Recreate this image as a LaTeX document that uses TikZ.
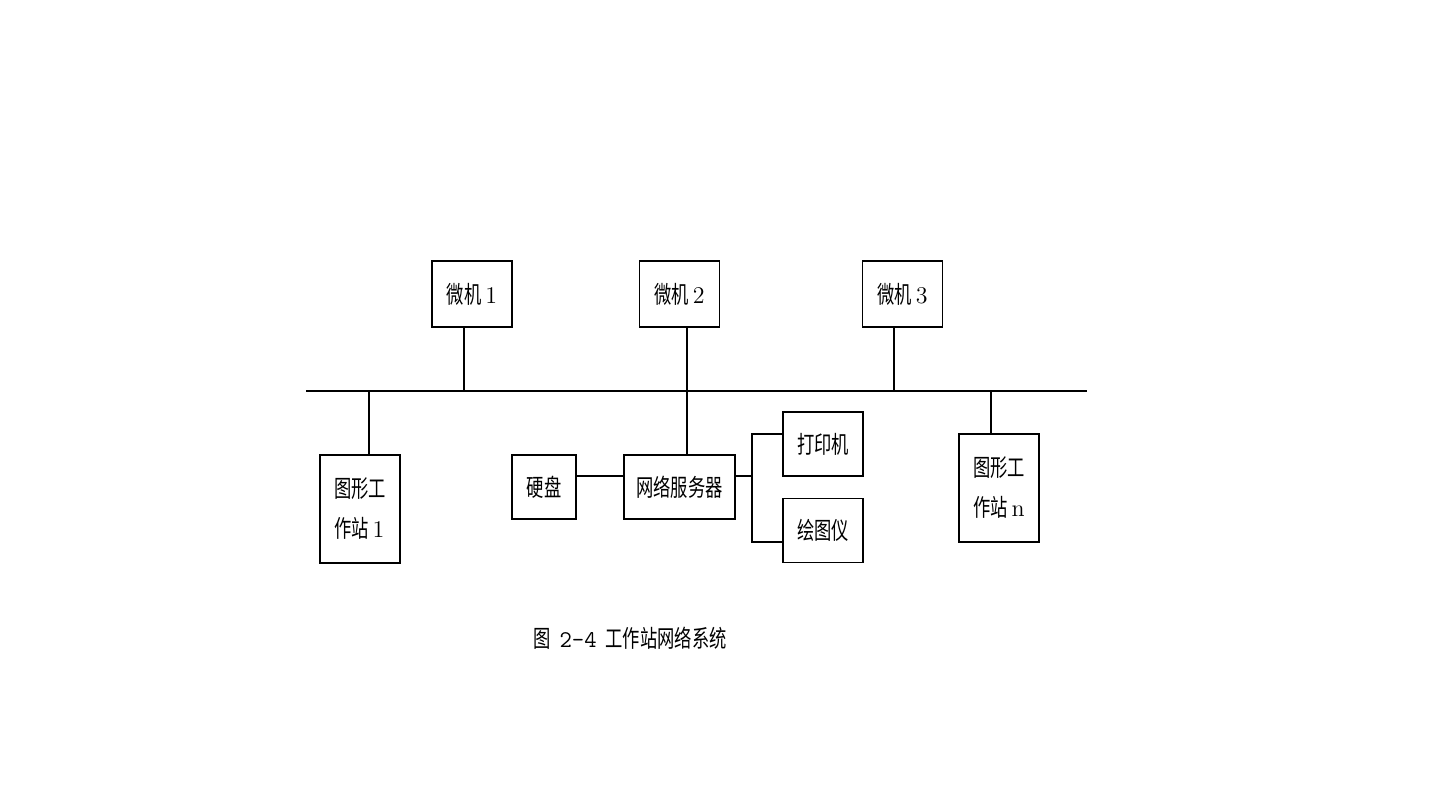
\documentclass[tikz,border=0pt]{standalone}
\usepackage{fontspec}
\newfontfamily\cjk[FakeStretch=0.72]{Noto Sans CJK SC}
\usetikzlibrary{positioning, calc}
\tikzstyle{box} = [rectangle, draw, line width=0.7pt, inner sep=0pt, font=\fontsize{12}{20}\selectfont\cjk]
\tikzstyle{pc} = [box, minimum width=40pt, minimum height=33pt]
\tikzstyle{ws} = [box, minimum width=40pt, minimum height=54pt, align=left]
\tikzstyle{dev} = [box, minimum width=40pt, minimum height=32pt]
\tikzstyle{line} = [draw, line width=0.7pt]

\begin{document}
\begin{tikzpicture}[x=0.5pt, y=-0.5pt]
        \useasboundingbox (0,0) rectangle (1440,810);

        % bus
        \coordinate (busL) at (306,391);
        \coordinate (busR) at (1087,391);
        \path [line] (busL) -- (busR);

        \node (wj1) [pc] at (472,294) {微机 {\rmfamily 1}};
        \node (wj2) [pc] at (679.5,294) {微机 {\rmfamily 2}};
        \node (wj3) [pc] at (902.5,294) {微机 {\rmfamily 3}};

        \node (gz1) [ws] at (360,509) {图形工\\作站 {\rmfamily 1}};
        \node (gzn) [ws] at (999,488) {图形工\\作站 {\rmfamily n}};

        \node (disk) [dev, minimum width=32pt] at (544,487) {硬盘};
        \node (server) [dev, minimum width=55.5pt] at (679.5,487) {网络服务器};
        \node (printer) [dev] at (823,444) {打印机};
        \node (plotter) [dev] at (823,530.5) {绘图仪};

        % taps on the bus
        \coordinate (t1) at (464,391);
        \coordinate (t2) at (687,391);
        \coordinate (t3) at (894,391);
        \coordinate (t4) at (369,391);
        \coordinate (t5) at (991,391);
        \path [line] (t1 |- wj1.south) -- (t1);
        \path [line] (t2 |- wj2.south) -- (t2) -- (t2 |- server.north);
        \path [line] (t3 |- wj3.south) -- (t3);
        \path [line] (t4) -- (t4 |- gz1.north);
        \path [line] (t5) -- (t5 |- gzn.north);

        % server links
        \coordinate (hd) at (600,476);
        \coordinate (fork) at (752,476);
        \coordinate (fa) at (752,434);
        \coordinate (fb) at (752,542);
        \path [line] (disk.east |- hd) -- (server.west |- hd);
        \path [line] (server.east |- fork) -- (fork);
        \path [line] (printer.west |- fa) -- (fa) -- (fb) -- (plotter.west |- fb);

        \node (caption) at (630,638) {\fontsize{12}{14}\selectfont\cjk 图\hspace{4.5pt}{\ttfamily 2-4}\hspace{4.5pt}工作站网络系统};

    \end{tikzpicture}
\end{document}
